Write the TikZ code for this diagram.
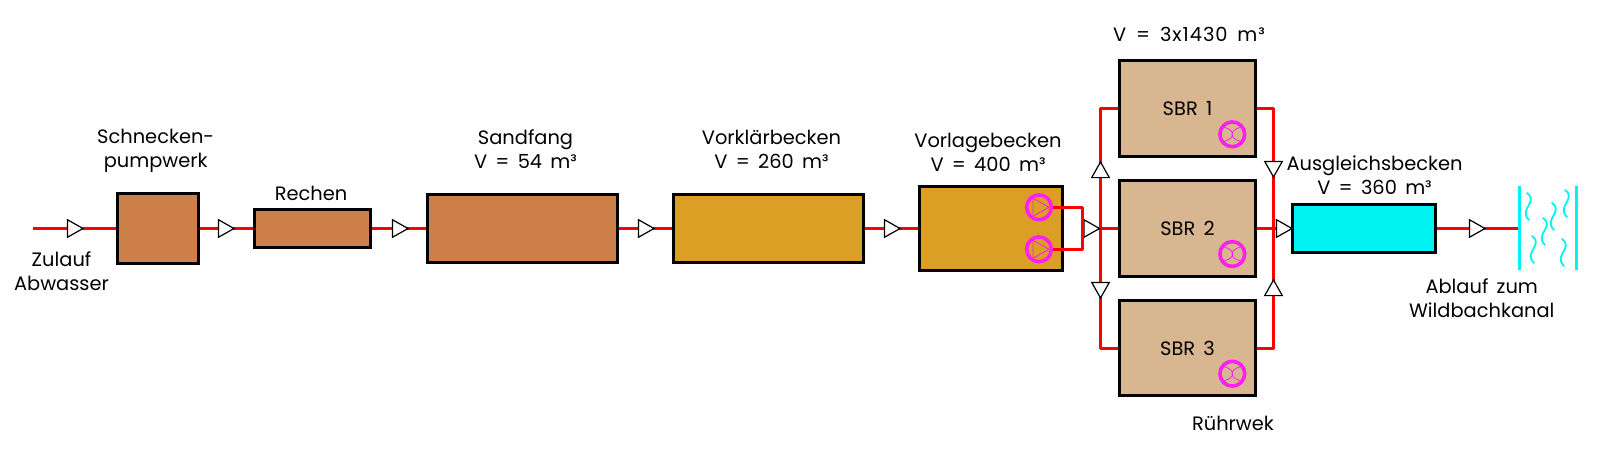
\documentclass[tikz,border=0pt]{standalone}
\usepackage{fontspec}
\setmainfont{Poppins}[WordSpace=1.6]
\usetikzlibrary{shapes.geometric,backgrounds}

\definecolor{brownbasin}{HTML}{CD8049}
\definecolor{goldbasin}{HTML}{DA9F24}
\definecolor{tanbasin}{HTML}{D7B690}
\definecolor{cyanbasin}{HTML}{00F2F2}
\definecolor{symbolpink}{HTML}{FF20F0}

\tikzset{
  basin/.style={draw=black,line width=1.5pt,inner sep=0pt},
  pipe/.style={red,line width=1.5pt,line join=round},
  valve/.style={draw=black,fill=white,line width=0.6pt,inner sep=0pt,outer sep=0pt,
      isosceles triangle,isosceles triangle stretches,anchor=apex,
      minimum width=8.8pt,minimum height=7.8pt},
  txt/.style={align=center,inner sep=0pt,font=\fontsize{9.7}{12}\selectfont},
  symb/.style={circle,draw=symbolpink,line width=1.8pt,minimum size=12.4pt,inner sep=0pt},
  water/.style={cyanbasin,line width=1.5pt},
  squiggle/.style={cyanbasin,line width=0.9pt,line cap=round}
}

\begin{document}
\begin{tikzpicture}[x=0.5pt,y=-0.5pt]
    \useasboundingbox (0,0) rectangle (1600,455);

    % basins
    \foreach \name/\cx/\w/\h/\col in {schnecke/158/80.5/70.5/brownbasin,
        rechen/312.5/116/38/brownbasin,sandfang/522.5/190.5/68/brownbasin,
        vorklaer/768.5/190/67.5/goldbasin,vorlage/991.2/143/83.5/goldbasin,
        ausgleich/1364/143/48/cyanbasin} {
        \node[basin,fill=\col,minimum width=\w*0.5pt,minimum height=\h*0.5pt] (\name) at (\cx,228.5) {};
      }
    \foreach \i/\cy in {1/108.5,2/228.5,3/348} {
        \node[basin,fill=tanbasin,minimum width=67.8pt,minimum height=47.8pt,
          font=\fontsize{9.7}{12}\selectfont] (sbr\i) at (1187.5,\cy) {SBR \i};
      }

    % pumps and stirrers
    \foreach \name/\cy in {pumpa/207.3,pumpb/249.3} {
        \node[symb,path picture={
            \draw[symbolpink,line width=0.45pt] ([shift={(-6,-9)}]path picture bounding box.center)
            -- ++(0,18) -- ++(16,-9) -- cycle;
          }] (\name) at (1039,\cy) {};
      }
    \foreach \i/\cy in {1/134.3,2/254,3/373.7} {
        \node[symb,path picture={
            \draw[symbolpink,line width=0.4pt] ([shift={(-8,-7)}]path picture bounding box.center)
            .. controls +(11,3) and +(11,-3) .. +(0,14);
            \draw[symbolpink,line width=0.4pt] ([shift={(8,-7)}]path picture bounding box.center)
            .. controls +(-11,3) and +(-11,-3) .. +(0,14);
          }] (stir\i) at (1232.3,\cy) {};
      }

    % valves, at their tips
    \foreach \name/\tx/\ty/\rot in {va/83/228.5/0,vb/234/228.5/0,vc/408/228.5/0,vd/654/228.5/0,
        ve/900/228.5/0,vf/1099.5/228.5/0,vg/1100.5/162/90,vh/1100.5/298/270,
        vi/1273.5/177/270,vj/1273.5/280/90,vk/1292/228.5/0,vl/1485/228.5/0} {
        \node[valve,shape border rotate=\rot] (\name) at (\tx,\ty) {};
      }

    \coordinate (zulauf) at (33,228.5);
    \coordinate (jvorlage) at (1082,228.5);
    \coordinate (jleft) at (1100.5,228.5);
    \coordinate (jright) at (1273.5,228.5);

    % water
    \node[inner sep=0pt] (bach) at (1519,228.5) {};
    \draw[water] (1519,186) -- (1519,270);
    \draw[water] (1576,186) -- (1576,270);
    \foreach \x/\y in {1527/193,1543/218,1552/203,1565/190,1532/236,1562/239} {
        \draw[squiggle] (\x,\y) .. controls +(12,9) and +(-11,-11) .. +(2,27);
      }

    % pipes
    \begin{scope}[on background layer]
      \draw[pipe] (zulauf) -- (va.center) -- (schnecke.west);
      \draw[pipe] (schnecke.east) -- (vb.center) -- (rechen.west);
      \draw[pipe] (rechen.east) -- (vc.center) -- (sandfang.west);
      \draw[pipe] (sandfang.east) -- (vd.center) -- (vorklaer.west);
      \draw[pipe] (vorklaer.east) -- (ve.center) -- (vorlage.west);
      \draw[pipe] (jvorlage) -- (vf.center) -- (sbr2.west);
      \draw[pipe] (jleft) -- (vg.center) |- (sbr1.west);
      \draw[pipe] (jleft) -- (vh.center) |- (sbr3.west);
      \draw[pipe] (sbr1.east) -| (vi.center) -- (jright);
      \draw[pipe] (sbr3.east) -| (vj.center) -- (jright);
      \draw[pipe] (sbr2.east) -- (vk.center) -- (ausgleich.west);
      \draw[pipe] (ausgleich.east) -- (vl.center) -- (bach);
    \end{scope}
    \draw[pipe] (pumpa.east) -| (jvorlage) |- (pumpb.east);

    % labels
    \node[txt] (lzulauf) at (61.5,271) {Zulauf\\Abwasser};
    \node[txt] (lschnecke) at (155.7,151) {Schnecken-\\pumpwerk};
    \node[txt] (lrechen) at (311,193) {Rechen};
    \node[txt] (lsandfang) at (525.5,149) {Sandfang\\V = 54 m³};
    \node[txt] (lvorklaer) at (771.5,149) {Vorklärbecken\\V = 260 m³};
    \node[txt] (lvorlage) at (988,152) {Vorlagebecken\\V = 400 m³};
    \node[txt] (lsbr) at (1189,34) {\addfontfeature{LetterSpace=5}V = 3x1430 m³};
    \node[txt] (lausgleich) at (1374.5,175) {Ausgleichsbecken\\V = 360 m³};
    \node[txt] (lablauf) at (1481.7,298) {Ablauf zum\\Wildbachkanal};
    \node[txt] (lruehr) at (1233,423) {Rührwek};
\end{tikzpicture}
\end{document}
